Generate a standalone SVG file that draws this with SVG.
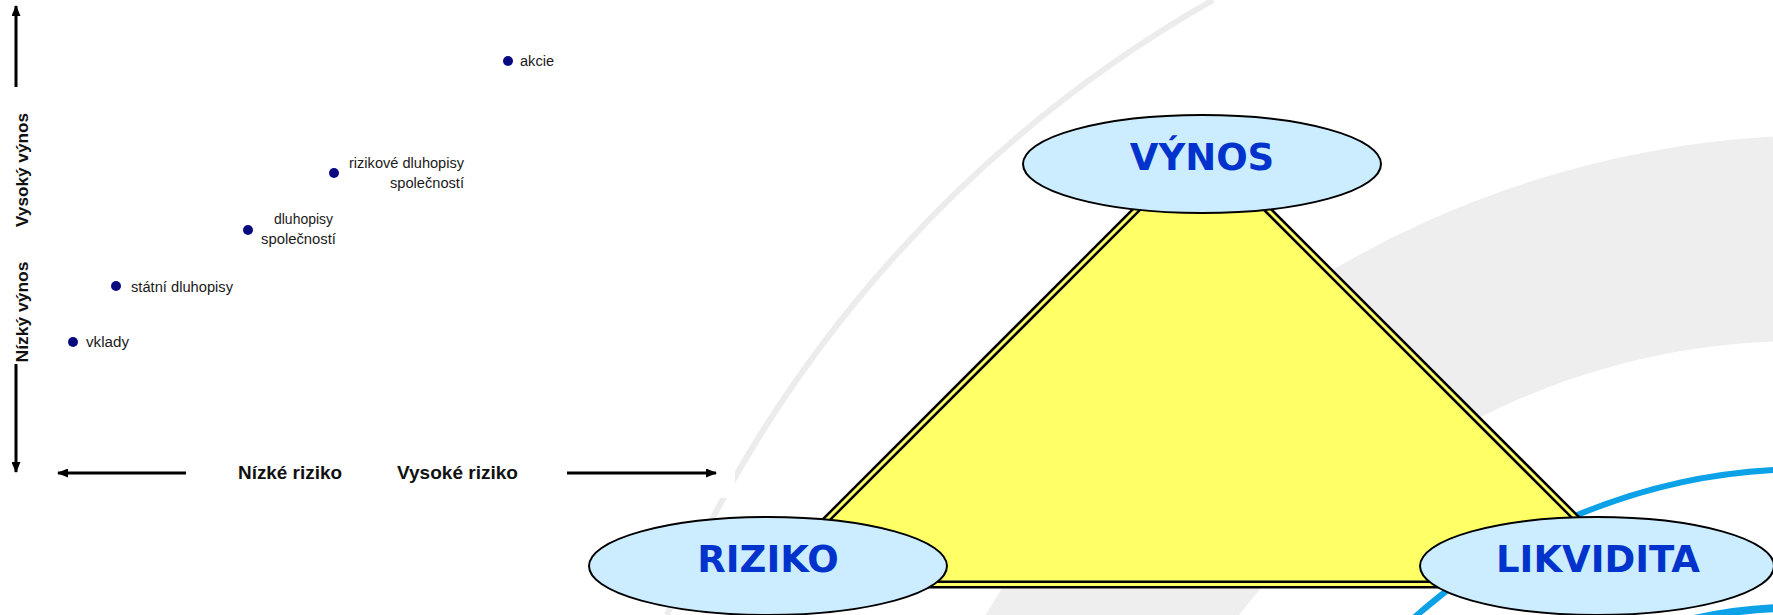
<svg xmlns="http://www.w3.org/2000/svg" width="1773" height="615" viewBox="0 0 1773 615">
<defs>
<style>
.lbl{font-family:"Liberation Sans",Arial,sans-serif;font-size:14px;fill:#1a1a1a}
.ax{font-family:"Liberation Sans",Arial,sans-serif;font-size:18px;font-weight:bold;fill:#111}
.vax{font-family:"Liberation Sans",Arial,sans-serif;font-size:17px;font-weight:bold;fill:#111;text-anchor:middle}
.dot{fill:#0a0a80}
.axis{stroke:#000;stroke-width:3;fill:none;marker-end:url(#ah)}
.node ellipse{fill:#CCECFF;stroke:#000;stroke-width:2}
.node text{font-family:"DejaVu Sans",Verdana,sans-serif;font-size:37px;font-weight:bold;fill:#0033CC;text-anchor:middle}
.bg{fill:#EEEEEE}
.blue{fill:none;stroke:#0DA2E7}
</style>
<marker id="ah" viewBox="0 0 11 9" refX="10" refY="4.5" markerWidth="11" markerHeight="9" markerUnits="userSpaceOnUse" orient="auto">
<path d="M0,0 L11,4.5 L0,9 Z" fill="#000"/>
</marker>
</defs>
<rect width="1773" height="615" fill="#fff"/>
<g id="background">
<path class="bg" d="M1773 136.6 A981 981 0 0 0 985.6 615 L1239 615 A713 713 0 0 1 1773 341.6 Z"/>
<path d="M1213 0 A1280 1280 0 0 0 667 615" fill="none" stroke="#ECECEC" stroke-width="6"/>
<path class="blue" stroke-width="6" d="M1406 625 A591 591 0 0 1 1790 469.2"/>
<path class="blue" stroke-width="8" d="M1690 620 A453 453 0 0 1 1790 607.7"/>
<rect x="0" y="0" width="735" height="498" fill="#fff"/>
</g>
<g id="chart">
<g id="axes">
<path class="axis" d="M16 87 L16 6"/>
<path class="axis" d="M16 364 L16 472"/>
<path class="axis" d="M186 473 L58 473"/>
<path class="axis" d="M567 473 L716 473"/>
</g>
<text class="vax" transform="translate(28,170) rotate(-90)" textLength="114" lengthAdjust="spacingAndGlyphs">Vysoký výnos</text>
<text class="vax" transform="translate(28,312) rotate(-90)" textLength="101" lengthAdjust="spacingAndGlyphs">Nízký výnos</text>
<text class="ax" x="238" y="479" textLength="104" lengthAdjust="spacingAndGlyphs">Nízké riziko</text>
<text class="ax" x="397" y="479" textLength="121" lengthAdjust="spacingAndGlyphs">Vysoké riziko</text>
<g id="p-akcie"><circle class="dot" cx="508" cy="61" r="5"/><text class="lbl" x="520" y="66" textLength="34" lengthAdjust="spacingAndGlyphs">akcie</text></g>
<g id="p-rizikove"><circle class="dot" cx="334" cy="173" r="5"/><text class="lbl" x="464" y="168" text-anchor="end" textLength="115" lengthAdjust="spacingAndGlyphs">rizikové dluhopisy</text><text class="lbl" x="464" y="188" text-anchor="end" textLength="74" lengthAdjust="spacingAndGlyphs">společností</text></g>
<g id="p-dluhopisy"><circle class="dot" cx="248" cy="230" r="5"/><text class="lbl" x="274" y="224" textLength="59" lengthAdjust="spacingAndGlyphs">dluhopisy</text><text class="lbl" x="261" y="244" textLength="75" lengthAdjust="spacingAndGlyphs">společností</text></g>
<g id="p-statni"><circle class="dot" cx="116" cy="286" r="5"/><text class="lbl" x="131" y="292" textLength="102" lengthAdjust="spacingAndGlyphs">státní dluhopisy</text></g>
<g id="p-vklady"><circle class="dot" cx="73" cy="342" r="5"/><text class="lbl" x="86" y="347" textLength="43" lengthAdjust="spacingAndGlyphs">vklady</text></g>
</g>
<g id="triangle">
<path d="M1202 144 L1642.5 584.5 L761.5 584.5 Z" fill="#FFFF66" stroke="#000" stroke-width="8"/>
<path d="M1202 144 L1642.5 584.5 L761.5 584.5 Z" fill="none" stroke="#FFFF66" stroke-width="3"/>
</g>
<g id="vynos" class="node"><ellipse cx="1202" cy="164" rx="179" ry="49"/><text x="1202" y="170">VÝNOS</text></g>
<g id="riziko" class="node"><ellipse cx="768" cy="566" rx="179" ry="49"/><text x="768" y="572">RIZIKO</text></g>
<g id="likvidita" class="node"><ellipse cx="1597" cy="566" rx="177" ry="49"/><text x="1598" y="572">LIKVIDITA</text></g>
</svg>
